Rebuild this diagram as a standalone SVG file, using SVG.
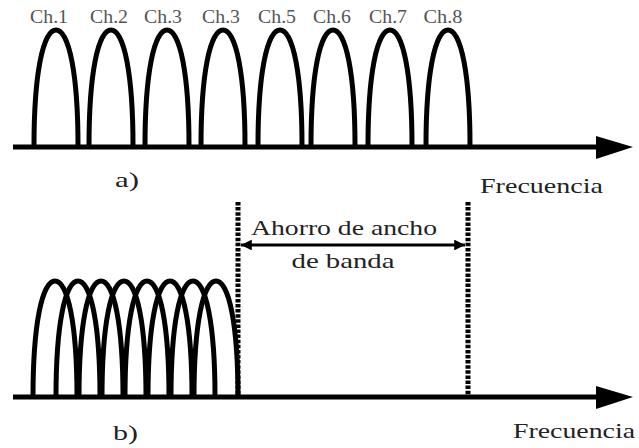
<svg xmlns="http://www.w3.org/2000/svg" width="639" height="448" viewBox="0 0 639 448">
<style>
.arch{fill:none;stroke:#000;stroke-width:5}
.axis{fill:none;stroke:#000;stroke-width:5}
.dot{fill:none;stroke:#000;stroke-width:5;stroke-dasharray:3.5 1.6}
.dim{fill:none;stroke:#000;stroke-width:3}
.ch{font-size:18px;fill:#555;text-anchor:middle}
.lbl{font-size:22px;fill:#222}
</style>
<defs>
<path id="a" d="M-22,0 C-22,-72 -13,-116 0,-116 C13,-116 22,-72 22,0"/>
<marker id="ah" viewBox="0 0 10 10" refX="10" refY="5" markerWidth="4" markerHeight="3.6" orient="auto-start-reverse" markerUnits="strokeWidth">
<path d="M0,0 L10,5 L0,10 z" fill="#000"/>
</marker>
</defs>
<rect width="639" height="448" fill="#fff"/>

<g id="panel-a" font-family="Liberation Serif, Times New Roman, serif">
<g id="ch-labels">
<text class="ch" x="49" y="23" textLength="38" lengthAdjust="spacingAndGlyphs">Ch.1</text>
<text class="ch" x="109" y="23" textLength="38" lengthAdjust="spacingAndGlyphs">Ch.2</text>
<text class="ch" x="163" y="23" textLength="38" lengthAdjust="spacingAndGlyphs">Ch.3</text>
<text class="ch" x="221" y="23" textLength="38" lengthAdjust="spacingAndGlyphs">Ch.3</text>
<text class="ch" x="277" y="23" textLength="38" lengthAdjust="spacingAndGlyphs">Ch.5</text>
<text class="ch" x="332" y="23" textLength="38" lengthAdjust="spacingAndGlyphs">Ch.6</text>
<text class="ch" x="388" y="23" textLength="38" lengthAdjust="spacingAndGlyphs">Ch.7</text>
<text class="ch" x="443" y="23" textLength="39" lengthAdjust="spacingAndGlyphs">Ch.8</text>
</g>
<g id="channels-a" class="arch">
<use href="#a" x="56" y="146"/>
<use href="#a" x="111" y="146"/>
<use href="#a" x="167" y="146"/>
<use href="#a" x="223" y="146"/>
<use href="#a" x="280" y="146"/>
<use href="#a" x="333" y="146"/>
<use href="#a" x="390" y="146"/>
<use href="#a" x="448" y="146"/>
</g>
<text id="label-a" class="lbl" x="115" y="187" textLength="24" lengthAdjust="spacingAndGlyphs">a)</text>
<text id="freq-a" class="lbl" x="480" y="193" textLength="123" lengthAdjust="spacingAndGlyphs">Frecuencia</text>
</g>

<g id="panel-b" font-family="Liberation Serif, Times New Roman, serif">
<g id="channels-b" class="arch">
<use href="#a" x="55" y="397"/>
<use href="#a" x="78" y="397"/>
<use href="#a" x="101" y="397"/>
<use href="#a" x="124" y="397"/>
<use href="#a" x="147" y="397"/>
<use href="#a" x="170" y="397"/>
<use href="#a" x="193" y="397"/>
<use href="#a" x="216" y="397"/>
</g>
<text id="saving-1" class="lbl" x="344" y="235" text-anchor="middle" textLength="186" lengthAdjust="spacingAndGlyphs">Ahorro de ancho</text>
<text id="saving-2" class="lbl" x="343" y="268" text-anchor="middle" textLength="103" lengthAdjust="spacingAndGlyphs">de banda</text>
<text id="label-b" class="lbl" x="113" y="440" textLength="25" lengthAdjust="spacingAndGlyphs">b)</text>
<text id="freq-b" class="lbl" x="513" y="438" textLength="122" lengthAdjust="spacingAndGlyphs">Frecuencia</text>
</g>

<g id="connectors">
<line class="axis" x1="13" y1="147" x2="598" y2="147"/>
<path d="M596,136 L633,147 L596,159 z" fill="#000"/>
<line class="axis" x1="13" y1="397" x2="598" y2="397"/>
<path d="M596,386 L633,397 L596,409 z" fill="#000"/>
<line class="dot" x1="238" y1="202" x2="238" y2="397"/>
<line class="dot" x1="468" y1="202" x2="468" y2="397"/>
<line class="dim" x1="241" y1="245" x2="465" y2="245" marker-start="url(#ah)" marker-end="url(#ah)"/>
</g>
</svg>
